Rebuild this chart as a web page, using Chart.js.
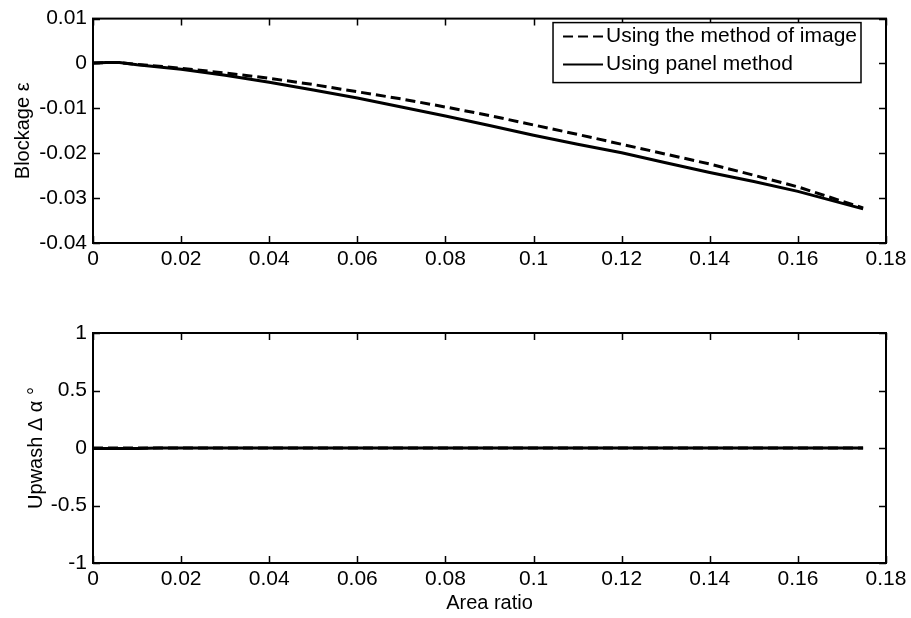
<!DOCTYPE html>
<html>
<head>
<meta charset="utf-8">
<script src="https://cdn.jsdelivr.net/npm/chart.js@4.4.0/dist/chart.umd.min.js"></script>
<style>
  html, body { margin: 0; padding: 0; background: #fff; }
  #wrap { position: relative; width: 911px; height: 618px; }
  .box { position: absolute; left: 0; width: 911px; }
</style>
</head>
<body>
<div id="wrap">
  <div class="box" style="top:0;height:300px"><canvas id="blockage_chart"></canvas></div>
  <div class="box" style="top:300px;height:318px"><canvas id="upwash_chart"></canvas></div>
</div>
<script>
// values
const area_ratio = [0, 0.003, 0.006, 0.01, 0.015, 0.02, 0.03, 0.04, 0.05, 0.06, 0.07,
                    0.08, 0.09, 0.1, 0.11, 0.12, 0.13, 0.14, 0.15, 0.16, 0.1748];
const blockage_image = [0.0001, 0.0002, 0.0002, -0.0002, -0.0006, -0.0011, -0.0021, -0.0033, -0.0047, -0.0063, -0.0079,
                        -0.0097, -0.0116, -0.0137, -0.0158, -0.0180, -0.0202, -0.0224, -0.0249, -0.0275, -0.0322];
const blockage_panel = [0.0001, 0.0002, 0.0002, -0.0003, -0.0008, -0.0013, -0.0026, -0.0042, -0.0059, -0.0077, -0.0097,
                        -0.0117, -0.0138, -0.0160, -0.0180, -0.0199, -0.0221, -0.0243, -0.0263, -0.0285, -0.0324];
const upwash_image = [0, 0, 0, 0, 0, 0, 0, 0, 0, 0, 0, 0, 0, 0, 0, 0, 0, 0, 0, 0, 0];
const upwash_panel = [-0.004, -0.004, -0.004, -0.004, 0, 0, 0, 0, 0, 0, 0, 0, 0, 0, 0, 0, 0, 0, 0, 0, 0];

const x_ticks = [0, 0.02, 0.04, 0.06, 0.08, 0.1, 0.12, 0.14, 0.16, 0.18];
const x_tick_labels = ['0', '0.02', '0.04', '0.06', '0.08', '0.1', '0.12', '0.14', '0.16', '0.18'];
const blockage_ticks = [-0.04, -0.03, -0.02, -0.01, 0, 0.01];
const blockage_tick_labels = ['-0.04', '-0.03', '-0.02', '-0.01', '0', '0.01'];
const upwash_ticks = [-1, -0.5, 0, 0.5, 1];
const upwash_tick_labels = ['-1', '-0.5', '0', '0.5', '1'];

const series_names = ['Using the method of image', 'Using panel method'];

const FONT = 'Liberation Sans, Arial, sans-serif';

function points(ys) {
    return area_ratio.map((x, i) => ({ x: x, y: ys[i] }));
}

// matlab style box with inward ticks on all four sides
const matlab_frame = {
    id: 'matlab_frame',
    afterDatasetsDraw(chart) {
        const { ctx, chartArea: a, scales } = chart;
        const len = 7;
        ctx.save();
        ctx.strokeStyle = '#000';
        ctx.lineWidth = 1.5;
        ctx.beginPath();
        scales.x.ticks.forEach((t) => {
            const px = Math.round(scales.x.getPixelForValue(t.value)) + 0.5;
            ctx.moveTo(px, a.bottom); ctx.lineTo(px, a.bottom - len);
            ctx.moveTo(px, a.top); ctx.lineTo(px, a.top + len);
        });
        scales.y.ticks.forEach((t) => {
            const py = Math.round(scales.y.getPixelForValue(t.value)) + 0.5;
            ctx.moveTo(a.left, py); ctx.lineTo(a.left + len, py);
            ctx.moveTo(a.right, py); ctx.lineTo(a.right - len, py);
        });
        ctx.stroke();
        ctx.lineWidth = 2;
        ctx.strokeRect(a.left, a.top, a.right - a.left, a.bottom - a.top);
        ctx.restore();
    }
};

// boxed legend in the top right corner of the plot
const box_legend = {
    id: 'box_legend',
    afterDraw(chart) {
        const { ctx, chartArea: a } = chart;
        const sets = chart.data.datasets;
        ctx.save();
        ctx.font = '21px ' + FONT;
        const text_w = Math.max(...sets.map(d => ctx.measureText(d.label).width));
        const row_h = 28;
        const right = a.right - 25;
        const top = a.top + 4;
        const width = 10 + 40 + 3 + text_w + 4;
        const left = right - width;
        const height = row_h * sets.length + 4;
        ctx.fillStyle = '#fff';
        ctx.fillRect(left, top, width, height);
        ctx.strokeStyle = '#000';
        ctx.lineWidth = 1.5;
        ctx.strokeRect(left, top, width, height);
        sets.forEach((d, i) => {
            const y = top + 14 + row_h * i;
            ctx.beginPath();
            ctx.setLineDash(d.borderDash || []);
            ctx.lineWidth = 2;
            ctx.moveTo(left + 10, y);
            ctx.lineTo(left + 50, y);
            ctx.stroke();
            ctx.setLineDash([]);
            ctx.fillStyle = '#000';
            ctx.textBaseline = 'middle';
            ctx.fillText(d.label, left + 53, y);
        });
        ctx.restore();
    }
};

function make_chart(canvas, data_image, data_panel, y_ticks, y_labels, y_title, cfg) {
    return new Chart(canvas, {
        type: 'line',
        data: {
            datasets: [{
                label: series_names[0],
                data: points(data_image),
                borderColor: '#000',
                borderWidth: 3,
                borderDash: [10, 5],
                pointRadius: 0,
                tension: 0
            }, {
                label: series_names[1],
                data: points(data_panel),
                borderColor: '#000',
                borderWidth: 3,
                pointRadius: 0,
                tension: 0
            }]
        },
        options: {
            responsive: true,
            maintainAspectRatio: false,
            animation: false,
            layout: { padding: { top: cfg.pad_top, right: 25, left: 0, bottom: 0 } },
            plugins: { legend: { display: false }, tooltip: { enabled: false } },
            scales: {
                x: {
                    type: 'linear',
                    min: 0,
                    max: 0.18,
                    afterBuildTicks: s => { s.ticks = x_ticks.map(v => ({ value: v })); },
                    afterFit: s => { s.height = cfg.x_height; },
                    grid: { display: false, drawTicks: false },
                    border: { display: false },
                    ticks: {
                        color: '#000',
                        font: { family: FONT, size: 21 },
                        padding: 4,
                        maxRotation: 0,
                        autoSkip: false,
                        callback: (v, i) => x_tick_labels[i]
                    },
                    title: {
                        display: cfg.x_title,
                        text: 'Area ratio',
                        color: '#000',
                        font: { family: FONT, size: 20 },
                        padding: { top: 0, bottom: 3 }
                    }
                },
                y: {
                    min: y_ticks[0],
                    max: y_ticks[y_ticks.length - 1],
                    afterBuildTicks: s => { s.ticks = y_ticks.map(v => ({ value: v })); },
                    afterFit: s => { s.width = 93; },
                    grid: { display: false, drawTicks: false },
                    border: { display: false },
                    ticks: {
                        color: '#000',
                        font: { family: FONT, size: 21 },
                        padding: 6,
                        autoSkip: false,
                        callback: (v, i) => y_labels[i]
                    },
                    title: {
                        display: true,
                        text: y_title,
                        color: '#000',
                        font: { family: FONT, size: 20 },
                        padding: { top: cfg.y_title_pad, bottom: 0 }
                    }
                }
            }
        },
        plugins: cfg.legend ? [matlab_frame, box_legend] : [matlab_frame]
    });
}

make_chart(document.getElementById('blockage_chart'), blockage_image, blockage_panel,
    blockage_ticks, blockage_tick_labels, 'Blockage ε',
    { pad_top: 14, x_height: 57, x_title: false, y_title_pad: 11, legend: true });

make_chart(document.getElementById('upwash_chart'), upwash_image, upwash_panel,
    upwash_ticks, upwash_tick_labels, 'Upwash Δ α °',
    { pad_top: 33, x_height: 55, x_title: true, y_title_pad: 24, legend: false });
</script>
</body>
</html>
